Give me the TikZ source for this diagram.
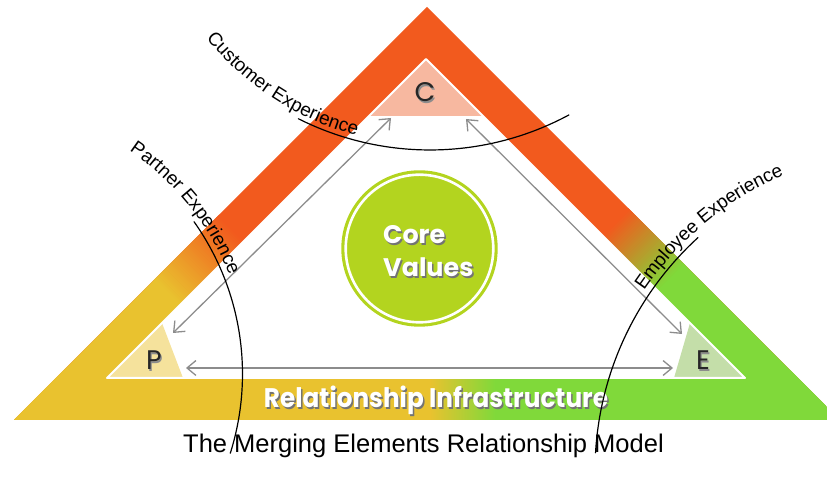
\documentclass[tikz,border=0pt]{standalone}
\usepackage{fontspec}
\setmainfont{Liberation Sans}
\newfontfamily\gothic{Poppins}
\usetikzlibrary{arrows.meta, decorations.text}
\definecolor{bandorange}{HTML}{F25A1E}
\definecolor{bandyellow}{HTML}{E9C22F}
\definecolor{bandgreen}{HTML}{80D93A}
\definecolor{cfill}{HTML}{F7B8A0}
\definecolor{pfill}{HTML}{F5E29C}
\definecolor{efill}{HTML}{C4DEA9}
\definecolor{coregreen}{HTML}{B3D41F}
\definecolor{arrgray}{HTML}{8C8C8C}
\newcommand{\labfont}{\fontsize{19}{22}\selectfont}

\begin{document}
\begin{tikzpicture}[
  x=1bp, y=1bp,
  line cap=round, line join=round,
  >={Straight Barb[length=9pt, width=15pt]},
  arr/.style   = {<->, draw=arrgray, line width=1.3pt},
  xline/.style = {draw=black, line width=1.2pt},
  exp/.style   = {decorate, decoration={text along path, text align=left}},
  ltr/.style   = {font=\gothic\fontsize{27}{30}\selectfont, text=black!85,
                  inner sep=0pt, anchor=base},
  ltrsh/.style = {ltr, text=black!45},
  wtxt/.style  = {font=\gothic\bfseries\fontsize{25.5}{30}\selectfont, text=white,
                  inner sep=0pt},
  wtxtsh/.style= {wtxt, text=black!55},
  ttl/.style   = {font=\fontsize{25.6}{30}\selectfont, inner sep=0pt, anchor=base}
]
\useasboundingbox (0,0) rectangle (827,485);

% outer band, clipped to the ring between the two triangles
\begin{scope}[even odd rule]
  \clip (14,65) -- (427,478) -- (840,65) -- cycle
        (107,107) -- (426,426) -- (745,107) -- cycle;
  \fill[bandorange] (0,0) rectangle (860,485);
  % base: yellow into green
  \fill[bandyellow] (0,55) rectangle (430,115);
  \shade[left color=bandyellow, right color=bandgreen] (430,55) rectangle (495,115);
  \fill[bandgreen] (495,55) rectangle (860,115);
  % left leg, blended in thin strips
  \begin{scope}[shift={(14,65)}, rotate=45]
    \fill[bandyellow] (0,-60) rectangle (199,60);
    \foreach \i in {0,...,45} {
      \pgfmathsetmacro{\pct}{100*\i/45}
      \fill[bandorange!\pct!bandyellow] ({198+2*\i},-60) rectangle ({200.6+2*\i},60);
    }
  \end{scope}
  % right leg
  \begin{scope}[shift={(840,65)}, rotate=135]
    \fill[bandgreen] (0,-60) rectangle (220,60);
    \foreach \i in {0,...,39} {
      \pgfmathsetmacro{\pct}{100*\i/39}
      \fill[bandorange!\pct!bandgreen] ({219+2*\i},-60) rectangle ({221.6+2*\i},60);
    }
  \end{scope}
\end{scope}

% corner triangles
\fill[cfill] (369,369) -- (426,426) -- (483,369) -- cycle;
\fill[pfill] (107,107) -- (162,162) -- (183,107) -- cycle;
\fill[efill] (674,107) -- (690,162) -- (745,107) -- cycle;
\draw[white, line width=2pt] (107,107) -- (426,426) -- (745,107) -- cycle;

% corner letters
\node[ltrsh] at (426.2,381.8) {C};
\node[ltr] (c) at (425,383) {C};
\node[ltrsh] at (155.2,113.8) {P};
\node[ltr] (p) at (154,115) {P};
\node[ltrsh] at (704.2,113.8) {E};
\node[ltr] (e) at (703,115) {E};

% arrows between the corners
\coordinate (pe1) at (186,117);
\coordinate (pe2) at (673,117);
\coordinate (pc1) at (173,152);
\coordinate (pc2) at (391,367);
\coordinate (ce1) at (466,366);
\coordinate (ce2) at (682,151);
\draw[arr] (pe1) -- (pe2);
\draw[arr] (pc1) -- (pc2);
\draw[arr] (ce1) -- (ce2);

% core values
\node[circle, fill=coregreen, minimum size=157, inner sep=0pt] (core) at (419.5,236.5) {};
\draw[white, line width=2.6pt] (core.center) circle[radius=73.8];
\node[wtxtsh, anchor=base west] at (384.5,239.5) {Core};
\node[wtxt, anchor=base west] (core1) at (383,241) {Core};
\node[wtxtsh, anchor=base west] at (384.5,206.5) {Values};
\node[wtxt, anchor=base west] (core2) at (383,208) {Values};

% base label
\node[wtxtsh, anchor=base, font=\gothic\bfseries\fontsize{27}{30}\selectfont, xscale=0.92]
  at (437.5,75.5) {Relationship Infrastructure};
\node[wtxt, anchor=base, font=\gothic\bfseries\fontsize{27}{30}\selectfont, xscale=0.92]
  (infra) at (436,77) {Relationship Infrastructure};

% experience arcs and their labels
\coordinate (cust) at (430,628);
\coordinate (part) at (-21,111);
\coordinate (empl) at (911,14);
\draw[xline] ([shift={(243.3:293)}]cust) arc[start angle=243.3, end angle=298.3, radius=293];
\draw[xline] ([shift={(35.3:263.5)}]part) arc[start angle=35.3, end angle=-17.5, radius=263.5];
\draw[xline] ([shift={(132.4:316)}]empl) arc[start angle=132.4, end angle=176.7, radius=316];
\path[exp, decoration={text={|\labfont|Customer Experience}}]
  ([shift={(219:288)}]cust) arc[start angle=219, end angle=262, radius=288];
\path[exp, decoration={text={|\labfont|Partner Experience}}]
  ([shift={(56:269)}]part) arc[start angle=56, end angle=12, radius=269];
\path[exp, decoration={text={|\labfont|Employee Experience}}]
  ([shift={(146:322)}]empl) arc[start angle=146, end angle=104, radius=322];

% title
\node[ttl] (title) at (423.5,32) {The Merging Elements Relationship Model};
\end{tikzpicture}
\end{document}
